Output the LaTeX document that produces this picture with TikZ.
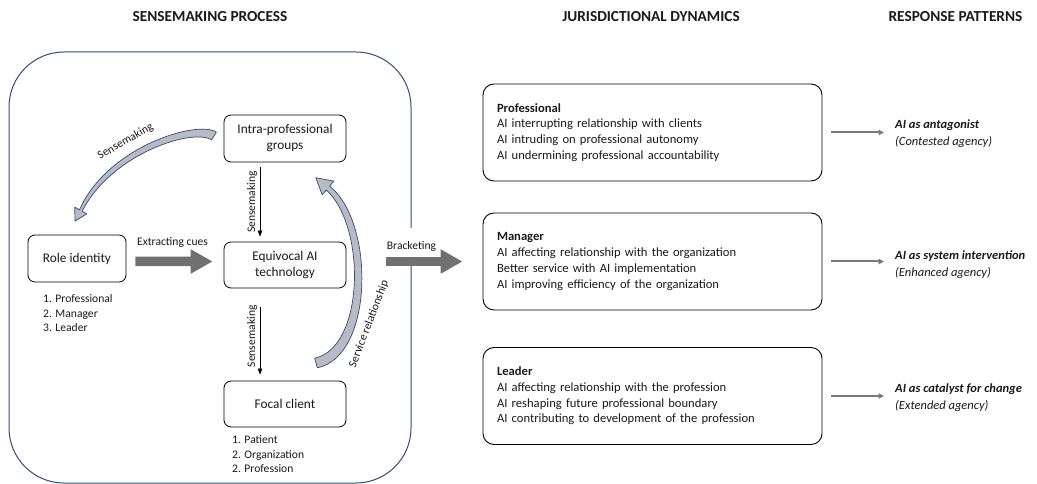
\documentclass[tikz,border=0pt]{standalone}
\usepackage{fontspec}
\setmainfont{Carlito}
\usetikzlibrary{arrows.meta}
\definecolor{framec}{HTML}{2F4B7C}
\definecolor{arrowg}{HTML}{707070}
\definecolor{thing}{HTML}{7A7A7A}
\definecolor{curvef}{HTML}{B8BCC2}
\definecolor{txt}{HTML}{1A1A1A}
\begin{document}
\begin{tikzpicture}[x=1bp,y=-1bp,
  every node/.style={text=txt},
  hdr/.style={font=\fontsize{15.3bp}{18bp}\selectfont\bfseries, inner sep=0pt},
  procbox/.style={draw=black, line width=0.8bp, rounded corners=7bp, minimum width=122bp, minimum height=46bp, inner sep=0pt, align=center, font=\fontsize{13.3bp}{16bp}\selectfont},
  jurbox/.style={draw=black, line width=0.9bp, rounded corners=11bp, text width=311bp, inner xsep=14bp, inner ysep=0pt, minimum height=97bp, align=left, font=\fontsize{12.6bp}{15.7bp}\selectfont},
  small/.style={font=\fontsize{11.6bp}{14.5bp}\selectfont, inner sep=0pt},
  lst/.style={small, align=left, anchor=west},
  resptxt/.style={anchor=west, inner sep=0pt, align=left, font=\fontsize{12.5bp}{17bp}\selectfont},
  bigarrow/.style={draw=arrowg, line width=9.5bp, -{Triangle[length=22bp,width=23bp]}},
  thinarrow/.style={draw=black, line width=0.6bp, -{Triangle[length=6bp,width=4.5bp]}},
  resparrow/.style={draw=thing, line width=2bp, -{Triangle[length=5.5bp,width=5.5bp]}},
  curvearrow/.style={fill=curvef, draw=framec, line width=0.7bp, line join=round},
  framestyle/.style={draw=framec, line width=1bp, rounded corners=55bp}
]
\useasboundingbox (0,0) rectangle (1037,484);

% headers
\node[hdr] (hSense) at (210,17) {SENSEMAKING PROCESS};
\node[hdr] (hJuris) at (651,17) {JURISDICTIONAL DYNAMICS};
\node[hdr] (hResp) at (955.5,17) {RESPONSE PATTERNS};

% frame
\path[framestyle] (411,228) -- (411,52) -- (9,52) -- (9,483) -- (411,483) -- (411,257);

% process boxes
\node[procbox, minimum width=98bp, minimum height=47bp] (role) at (77,258.5) {Role identity};
\node[procbox, minimum height=47bp] (intra) at (285,138.5) {Intra-professional\\groups};
\node[procbox] (equiv) at (285,265) {Equivocal AI\\technology};
\node[procbox] (focal) at (285,404) {Focal client};

\node[lst] (roleList) at (43,313.5) {1. Professional\\2. Manager\\3. Leader};
\node[lst] (focalList) at (232,454.5) {1. Patient\\2. Organization\\2. Profession};

% extracting cues
\draw[bigarrow] ([xshift=9bp,yshift=-3bp]role.east) -- ([xshift=-11bp,yshift=3.5bp]equiv.west);
\node[small] (lblExtract) at (172.5,242) {Extracting cues};

% thin sensemaking arrows
\draw[thinarrow, shorten <=5bp, shorten >=5bp] ([xshift=-25bp]intra.south) -- node[small, pos=0.5, rotate=90, anchor=south, inner sep=2.5bp] (lblSm2) {Sensemaking} ([xshift=-25bp]equiv.north);
\draw[thinarrow, shorten <=19bp, shorten >=6bp] ([xshift=-25bp]equiv.south) -- node[small, pos=0.52, rotate=90, anchor=south, inner sep=2.5bp] (lblSm3) {Sensemaking} ([xshift=-25bp]focal.north);

% curved block arrows
\path[curvearrow] (216.4,132.2) .. controls (197,119.5) and (107,147) .. (79.5,209.8) -- (74.7,207.1) -- (75,221) -- (86.9,213.9) -- (82.1,211.2) .. controls (112,153) and (193,128) .. (211.6,139.8) -- cycle;
\node[small, rotate=30] (lblSm1) at (125.5,141.5) {Sensemaking};

\path[curvearrow] (317.4,367.8) .. controls (374,356) and (375,222) .. (329.6,186.1) -- (333.8,181.1) -- (315.8,177.7) -- (322.2,194.9) -- (326.4,189.9) .. controls (367,228) and (364,348) .. (314.6,358.2) -- cycle;
\node[small, rotate=69] (lblService) at (369,324) {Service relationship};

% jurisdictional boxes
\node[jurbox] (prof) at (652.5,132.5) {\textbf{Professional}\\AI interrupting relationship with clients\\AI intruding on professional autonomy\\AI undermining professional accountability};
\node[jurbox] (manager) at (652.5,261.5) {\textbf{Manager}\\AI affecting relationship with the organization\\Better service with AI implementation\\AI improving efficiency of the organization};
\node[jurbox] (leader) at (652.5,396) {\textbf{Leader}\\AI affecting relationship with the profession\\AI reshaping future professional boundary\\AI contributing to development of the profession};

% bracketing
\coordinate (brk) at (386,261.5);
\draw[bigarrow, shorten >=20bp] (brk) -- (manager.west);
\node[small] (lblBracket) at (411.5,246) {Bracketing};

% responses
\node[resptxt] (r1) at (895,133.5) {\textbf{\textit{AI as antagonist}}\\\textit{(Contested agency)}};
\node[resptxt] (r2) at (895,264.5) {\textbf{\textit{AI as system intervention}}\\\textit{(Enhanced agency)}};
\node[resptxt] (r3) at (895,397.5) {\textbf{\textit{AI as catalyst for change}}\\\textit{(Extended agency)}};

\draw[resparrow, shorten <=9bp, shorten >=11bp] (prof.east) -- (prof.east -| r1.west);
\draw[resparrow, shorten <=9bp, shorten >=11bp] (manager.east) -- (manager.east -| r2.west);
\draw[resparrow, shorten <=9bp, shorten >=11bp] (leader.east) -- (leader.east -| r3.west);
\end{tikzpicture}
\end{document}
